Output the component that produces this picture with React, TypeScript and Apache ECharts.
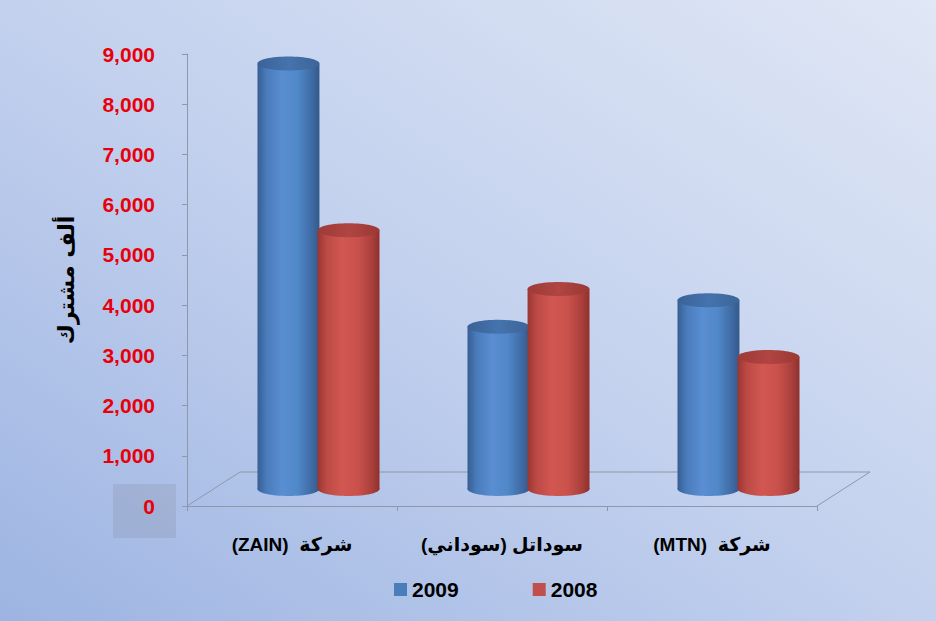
import React, { useEffect, useRef } from "react";
import * as echarts from "echarts";

// ---- data ----
const categories = ["(ZAIN)  شركة", "\u200Fسوداتل (سوداني)\u200F", "(MTN)  شركة"];
const seriesNames = ["2009", "2008"];
const values2009 = [8470, 3230, 3760];
const values2008 = [5150, 3980, 2630];
const yMin = 0;
const yMax = 9000;
const yInterval = 1000;
const yAxisTitle = "ألف مشترك";

// ---- styling constants ----
const DEPTH_X = 53;
const DEPTH_Y = 34;
const AXIS_COLOR = "#8f98a8";

const palettes = [
  {
    legend: "#4a7ebb",
    body: ["#365e92", "#4a7cbc", "#5a8ed2", "#5088c9", "#3f6aa3", "#33598a"],
    top: ["#3a6297", "#4573ad", "#3c6599"],
  },
  {
    legend: "#c0504d",
    body: ["#9a3632", "#bd4a45", "#d25752", "#c9514c", "#a93f3b", "#8f302d"],
    top: ["#9d3a37", "#b04542", "#9c3835"],
  },
];

function bodyGradient(c: string[]) {
  return new echarts.graphic.LinearGradient(0, 0, 1, 0, [
    { offset: 0, color: c[0] },
    { offset: 0.15, color: c[1] },
    { offset: 0.4, color: c[2] },
    { offset: 0.65, color: c[3] },
    { offset: 0.88, color: c[4] },
    { offset: 1, color: c[5] },
  ]);
}

function topGradient(c: string[]) {
  return new echarts.graphic.LinearGradient(0, 0, 1, 0, [
    { offset: 0, color: c[0] },
    { offset: 0.5, color: c[1] },
    { offset: 1, color: c[2] },
  ]);
}

function cylinderRender(params: any, api: any) {
  const i = api.value(0);
  const v = api.value(1);
  const p0 = api.coord([i, 0]);
  const p1 = api.coord([i, v]);
  const band = api.size([1, 0])[0];
  const sign = params.seriesIndex === 0 ? -1 : 1;
  const pal = palettes[params.seriesIndex];
  const w = band * 0.295;
  const rx = w / 2;
  const ry = 7;
  const cx = p0[0] + DEPTH_X / 2 + sign * band * 0.143;
  const yb = p0[1] - DEPTH_Y / 2;
  const yt = p1[1] - DEPTH_Y / 2;
  return {
    type: "group",
    children: [
      { type: "ellipse", shape: { cx, cy: yb, rx, ry }, style: { fill: bodyGradient(pal.body) } },
      { type: "rect", shape: { x: cx - rx, y: yt, width: w, height: yb - yt }, style: { fill: bodyGradient(pal.body) } },
      { type: "ellipse", shape: { cx, cy: yt, rx, ry }, style: { fill: topGradient(pal.top) } },
    ],
  };
}

function floorRender(_params: any, api: any) {
  const p = api.coord([0, 0]);
  const band = api.size([1, 0])[0];
  const xl = p[0] - band / 2;
  const xr = xl + band * categories.length;
  const y = p[1];
  return {
    type: "polyline",
    shape: {
      points: [
        [xl, y],
        [xl + DEPTH_X, y - DEPTH_Y],
        [xr + DEPTH_X, y - DEPTH_Y],
        [xr, y],
      ],
    },
    style: { fill: "none", stroke: AXIS_COLOR, lineWidth: 1 },
  };
}

export default function App() {
  const ref = useRef<HTMLDivElement>(null);

  useEffect(() => {
    if (!ref.current) return;
    const chart = echarts.init(ref.current, undefined, { renderer: "svg" });
    const seriesData = [values2009, values2008];
    chart.setOption({
      animation: false,
      backgroundColor: new echarts.graphic.LinearGradient(0, 1, 1, 0, [
        { offset: 0, color: "#9db4e2" },
        { offset: 0.5, color: "#c3d1ee" },
        { offset: 1, color: "#e0e7f5" },
      ]),
      grid: { left: 187, right: 119, top: 54, bottom: 115, containLabel: false },
      graphic: [
        {
          type: "rect",
          z: -10,
          silent: true,
          shape: { x: 113, y: 484, width: 63, height: 54 },
          style: { fill: "rgba(130,140,160,0.24)" },
        },
      ],
      legend: {
        data: seriesNames,
        left: 389,
        top: 574,
        icon: "rect",
        itemWidth: 13,
        itemHeight: 13,
        itemGap: 74,
        textStyle: { color: "#000", fontSize: 21, fontWeight: "bold", fontFamily: "Arial" },
      },
      xAxis: {
        type: "category",
        data: categories,
        axisLine: { show: true, lineStyle: { color: AXIS_COLOR } },
        axisTick: { show: true, length: 5, lineStyle: { color: AXIS_COLOR } },
        axisLabel: {
          interval: 0,
          hideOverlap: false,
          color: "#000",
          fontSize: 19,
          fontWeight: "bold",
          fontFamily: "Arial, DejaVu Sans",
          margin: 29,
        },
        splitLine: { show: false },
      },
      yAxis: {
        type: "value",
        min: yMin,
        max: yMax,
        interval: yInterval,
        name: yAxisTitle,
        nameLocation: "middle",
        nameRotate: 90,
        nameGap: 110,
        nameTextStyle: { color: "#000", fontSize: 22, fontWeight: "bold", fontFamily: "DejaVu Sans" },
        axisLine: { show: true, lineStyle: { color: AXIS_COLOR } },
        axisTick: { show: true, length: 5, lineStyle: { color: AXIS_COLOR } },
        axisLabel: {
          color: "#e8000b",
          fontSize: 21,
          fontWeight: "bold",
          fontFamily: "Arial",
          margin: 32,
          formatter: (v: number) => v.toLocaleString("en-US"),
        },
        splitLine: { show: false },
      },
      series: [
        ...seriesNames.map((name, s) => ({
          type: "custom",
          name,
          z: 3,
          clip: false,
          itemStyle: { color: palettes[s].legend },
          data: seriesData[s].map((v, i) => [i, v]),
          renderItem: cylinderRender,
        })),
        {
          type: "custom",
          name: "floor",
          z: 1,
          silent: true,
          clip: false,
          data: [[0, 0]],
          renderItem: floorRender,
        },
      ],
    });
    return () => chart.dispose();
  }, []);

  return (
    <div
      ref={ref}
      style={{ position: "fixed", left: 0, top: 0, width: 936, height: 621 }}
    />
  );
}
